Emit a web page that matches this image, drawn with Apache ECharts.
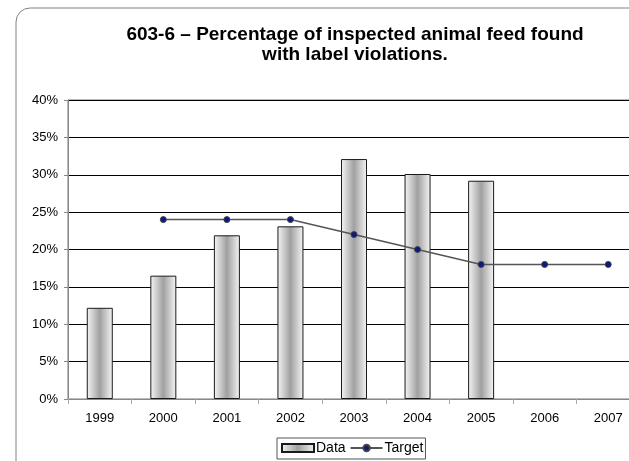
<!DOCTYPE html>
<html>
<head>
<meta charset="utf-8">
<style>
  html, body { margin: 0; padding: 0; background: #fff; }
  #chart { width: 629px; height: 461px; }
</style>
<script src="https://cdn.jsdelivr.net/npm/echarts@6/dist/echarts.min.js"></script>
</head>
<body>
<div id="chart"></div>
<script>
// Years on the category axis
const years = ['1999', '2000', '2001', '2002', '2003', '2004', '2005', '2006', '2007'];
// Share of inspected feed with label violations (%)
const dataValues = [12.2, 16.5, 21.9, 23.1, 32.1, 30.1, 29.2, null, null];
// Target level (%)
const targetValues = [null, 24, 24, 24, 22, 20, 18, 18, 18];
// Value axis ticks
const yTicks = [0, 5, 10, 15, 20, 25, 30, 35, 40];

const chart = echarts.init(document.getElementById('chart'), null, { renderer: 'canvas' });

const barFill = new echarts.graphic.LinearGradient(0, 0, 1, 0, [
  { offset: 0, color: '#f6f6f6' },
  { offset: 0.5, color: '#a0a0a0' },
  { offset: 1, color: '#f6f6f6' }
]);

const font = 'Arial, "Liberation Sans", sans-serif';

chart.setOption({
  animation: false,
  backgroundColor: '#fff',
  title: {
    text: '603-6 – Percentage of inspected animal feed found\nwith label violations.',
    left: 355,
    top: 25,
    textAlign: 'center',
    padding: 0,
    textStyle: {
      fontFamily: font,
      fontSize: 19,
      fontWeight: 'bold',
      color: '#000',
      lineHeight: 20
    }
  },
  graphic: [{
    type: 'rect',
    shape: { x: 16, y: 8, width: 640, height: 480, r: [14, 0, 0, 0] },
    style: { fill: 'none', stroke: '#808080', lineWidth: 1 },
    silent: true
  }],
  legend: {
    top: 438,
    left: 277,
    itemGap: 4,
    itemWidth: 32,
    itemHeight: 8,
    padding: [3, 2, 4, 4],
    borderColor: '#555',
    borderWidth: 1,
    borderRadius: 0,
    textStyle: { fontFamily: font, fontSize: 14, color: '#000', padding: [0, 0, 0, -3] },
    data: [
      { name: 'Data', icon: 'rect' },
      { name: 'Target' }
    ]
  },
  grid: {
    left: 68,
    top: 100,
    width: 572,
    height: 299,
    outerBoundsMode: 'none',
    show: true,
    borderColor: '#777',
    borderWidth: 1,
    containLabel: false
  },
  xAxis: {
    type: 'category',
    data: years,
    axisLine: { lineStyle: { color: '#888' } },
    axisTick: { show: true, length: 5, lineStyle: { color: '#aaa' } },
    axisLabel: { fontFamily: font, fontSize: 13, color: '#000', margin: 13 },
    splitLine: { show: false }
  },
  yAxis: {
    type: 'value',
    min: 0,
    max: 40,
    interval: 5,
    axisLine: { show: true, lineStyle: { color: '#888' } },
    axisTick: { show: true, length: 4, lineStyle: { color: '#888' } },
    axisLabel: {
      fontFamily: font,
      fontSize: 13,
      color: '#000',
      margin: 10,
      formatter: v => (yTicks.includes(v) ? v + '%' : '')
    },
    splitLine: { show: true, lineStyle: { color: '#000', width: 1 } }
  },
  series: [
    {
      name: 'Data',
      type: 'bar',
      data: dataValues,
      barWidth: 26,
      itemStyle: { color: barFill, borderColor: '#1a1a1a', borderWidth: 1 }
    },
    {
      name: 'Target',
      type: 'line',
      data: targetValues,
      connectNulls: false,
      symbol: 'circle',
      symbolSize: 6,
      lineStyle: { color: '#555', width: 1.5 },
      itemStyle: { color: '#0a1a80', borderColor: '#444', borderWidth: 1 }
    }
  ]
});
</script>
</body>
</html>
